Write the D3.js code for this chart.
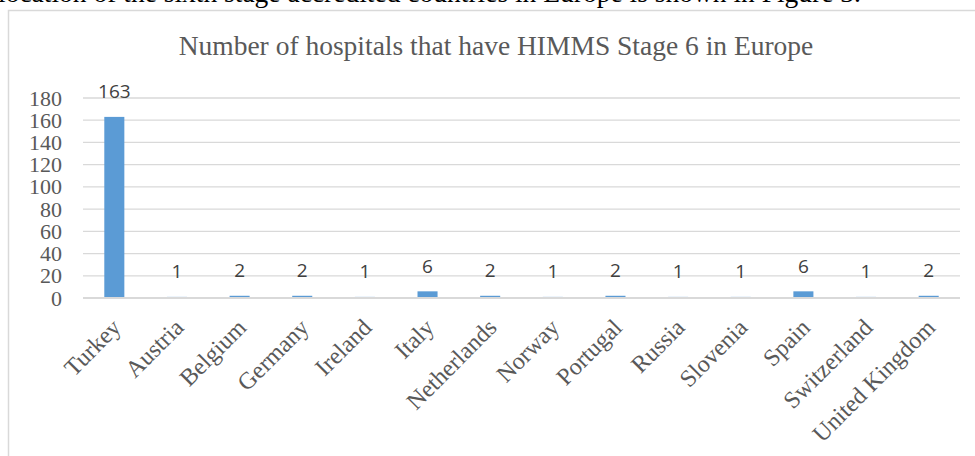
<!DOCTYPE html>
<html>
<head>
<meta charset="utf-8">
<script src="https://cdn.jsdelivr.net/npm/d3@7"></script>
<style>
  html, body { margin: 0; padding: 0; background: #fff; }
  svg { display: block; }
</style>
</head>
<body>
<script>
const categories = ["Turkey", "Austria", "Belgium", "Germany", "Ireland", "Italy", "Netherlands", "Norway", "Portugal", "Russia", "Slovenia", "Spain", "Switzerland", "United Kingdom"];
const values = [163, 1, 2, 2, 1, 6, 2, 1, 2, 1, 1, 6, 1, 2];
const yTicks = [0, 20, 40, 60, 80, 100, 120, 140, 160, 180];
const chartTitle = "Number of hospitals that have HIMMS Stage 6 in Europe";
const captionText = "location of the sixth stage accredited countries in Europe is shown in Figure 3.";

const W = 975, H = 456;
const svg = d3.select("body").append("svg").attr("width", W).attr("height", H);

// caption line above the chart (cropped at top)
svg.append("text")
  .attr("x", -2).attr("y", 2)
  .attr("font-family", "'Liberation Serif', 'Times New Roman', serif")
  .attr("font-size", 27.5)
  .attr("fill", "#000")
  .text(captionText);

// chart frame
svg.append("rect")
  .attr("x", 8.5).attr("y", 10.5)
  .attr("width", 975).attr("height", 460)
  .attr("fill", "#fff")
  .attr("stroke", "#d9d9d9").attr("stroke-width", 1.5);

const plot = { left: 83, right: 960, top: 98, bottom: 298 };

const x = d3.scaleBand().domain(categories).range([plot.left, plot.right]).paddingInner(0.68).paddingOuter(0.34);
const y = d3.scaleLinear().domain([0, 180]).range([plot.bottom, plot.top]);

// title
svg.append("text")
  .attr("x", 496).attr("y", 55)
  .attr("text-anchor", "middle")
  .attr("font-family", "'Liberation Serif', 'Times New Roman', serif")
  .attr("font-size", 27.5)
  .attr("fill", "#595959")
  .text(chartTitle);

// gridlines
svg.append("g").selectAll("line").data(yTicks.filter(d => d > 0)).join("line")
  .attr("x1", plot.left).attr("x2", plot.right)
  .attr("y1", d => y(d)).attr("y2", d => y(d))
  .attr("stroke", "#d9d9d9").attr("stroke-width", 1.3);

// y axis labels
const yAxis = d3.axisLeft(y).tickValues(yTicks).tickSize(0).tickPadding(0);
const gy = svg.append("g").attr("transform", `translate(${plot.left - 21},0)`).call(yAxis);
gy.select(".domain").remove();
gy.selectAll("text")
  .attr("font-family", "'Liberation Serif', 'Times New Roman', serif")
  .attr("font-size", 22)
  .attr("fill", "#595959");

// bars
svg.append("g").selectAll("rect").data(categories).join("rect")
  .attr("x", (d) => x(d))
  .attr("width", x.bandwidth())
  .attr("y", (d, i) => y(values[i]))
  .attr("height", (d, i) => y(0) - y(values[i]))
  .attr("fill", "#5b9bd5");

// x axis line
svg.append("line")
  .attr("x1", plot.left).attr("x2", plot.right)
  .attr("y1", y(0)).attr("y2", y(0))
  .attr("stroke", "#d9d9d9").attr("stroke-width", 1.8);

// value labels
svg.append("g").selectAll("text").data(categories).join("text")
  .attr("x", d => x(d) + x.bandwidth() / 2)
  .attr("y", (d, i) => y(values[i]) - 18.5)
  .attr("text-anchor", "middle")
  .attr("font-family", "'Open Sans', 'Liberation Sans', sans-serif")
  .attr("font-size", 19)
  .attr("fill", "#404040")
  .text((d, i) => values[i]);

// x axis labels (rotated)
const xAxis = d3.axisBottom(x).tickSize(0).tickPadding(0);
const gx = svg.append("g").attr("transform", `translate(0,${plot.bottom})`).call(xAxis);
gx.select(".domain").remove();
gx.selectAll(".tick text")
  .attr("font-family", "'Liberation Serif', 'Times New Roman', serif")
  .attr("font-size", 24)
  .attr("fill", "#595959")
  .attr("text-anchor", "end")
  .attr("dy", 0)
  .attr("y", 0)
  .attr("transform", "translate(8,31) rotate(-45)");
</script>
</body>
</html>
